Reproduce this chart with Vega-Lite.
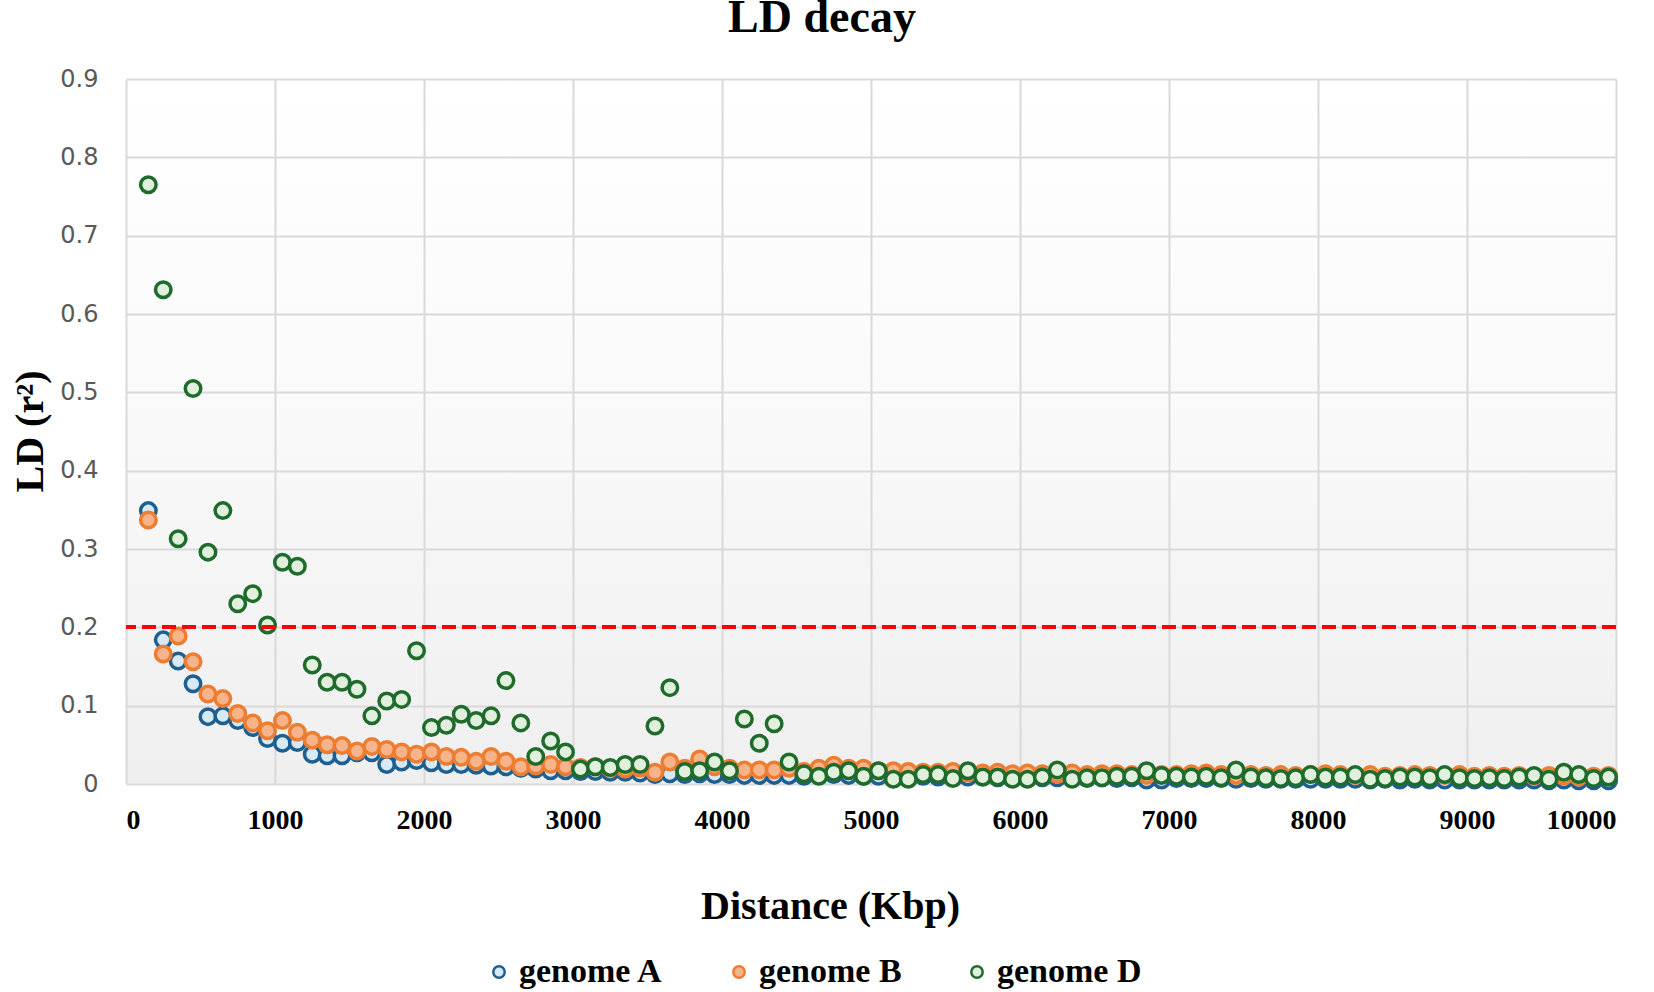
{
  "$schema": "https://vega.github.io/schema/vega-lite/v6.json",
  "width": 1490,
  "height": 705,
  "autosize": "none",
  "padding": {"left": 126, "top": 79, "right": 38, "bottom": 208},
  "background": "white",
  "title": {"text": "LD decay", "font": "Liberation Serif", "fontSize": 46, "fontWeight": "bold", "color": "#000000", "anchor": "middle", "dx": -49, "baseline": "alphabetic", "offset": -11},
  "data": {"values": [
    {"d":150,"genome A":0.349,"genome B":0.337,"genome D":0.765},
    {"d":250,"genome A":0.184,"genome B":0.166,"genome D":0.631},
    {"d":350,"genome A":0.157,"genome B":0.189,"genome D":0.313},
    {"d":450,"genome A":0.128,"genome B":0.156,"genome D":0.505},
    {"d":550,"genome A":0.086,"genome B":0.115,"genome D":0.296},
    {"d":650,"genome A":0.087,"genome B":0.109,"genome D":0.349},
    {"d":750,"genome A":0.081,"genome B":0.090,"genome D":0.230},
    {"d":850,"genome A":0.072,"genome B":0.078,"genome D":0.243},
    {"d":950,"genome A":0.058,"genome B":0.068,"genome D":0.203},
    {"d":1050,"genome A":0.052,"genome B":0.081,"genome D":0.283},
    {"d":1150,"genome A":0.053,"genome B":0.066,"genome D":0.278},
    {"d":1250,"genome A":0.038,"genome B":0.056,"genome D":0.152},
    {"d":1350,"genome A":0.036,"genome B":0.050,"genome D":0.130},
    {"d":1450,"genome A":0.036,"genome B":0.049,"genome D":0.130},
    {"d":1550,"genome A":0.040,"genome B":0.042,"genome D":0.121},
    {"d":1650,"genome A":0.040,"genome B":0.048,"genome D":0.087},
    {"d":1750,"genome A":0.025,"genome B":0.044,"genome D":0.106},
    {"d":1850,"genome A":0.028,"genome B":0.041,"genome D":0.108},
    {"d":1950,"genome A":0.030,"genome B":0.038,"genome D":0.170},
    {"d":2050,"genome A":0.027,"genome B":0.041,"genome D":0.072},
    {"d":2150,"genome A":0.025,"genome B":0.035,"genome D":0.075},
    {"d":2250,"genome A":0.025,"genome B":0.034,"genome D":0.089},
    {"d":2350,"genome A":0.024,"genome B":0.029,"genome D":0.081},
    {"d":2450,"genome A":0.023,"genome B":0.035,"genome D":0.087},
    {"d":2550,"genome A":0.022,"genome B":0.029,"genome D":0.132},
    {"d":2650,"genome A":0.020,"genome B":0.022,"genome D":0.078},
    {"d":2750,"genome A":0.019,"genome B":0.023,"genome D":0.035},
    {"d":2850,"genome A":0.017,"genome B":0.025,"genome D":0.055},
    {"d":2950,"genome A":0.017,"genome B":0.022,"genome D":0.041},
    {"d":3050,"genome A":0.016,"genome B":0.021,"genome D":0.019},
    {"d":3150,"genome A":0.016,"genome B":0.022,"genome D":0.022},
    {"d":3250,"genome A":0.015,"genome B":0.020,"genome D":0.021},
    {"d":3350,"genome A":0.015,"genome B":0.019,"genome D":0.025},
    {"d":3450,"genome A":0.014,"genome B":0.020,"genome D":0.025},
    {"d":3550,"genome A":0.012,"genome B":0.015,"genome D":0.074},
    {"d":3650,"genome A":0.013,"genome B":0.028,"genome D":0.123},
    {"d":3750,"genome A":0.012,"genome B":0.020,"genome D":0.016},
    {"d":3850,"genome A":0.013,"genome B":0.032,"genome D":0.017},
    {"d":3950,"genome A":0.012,"genome B":0.022,"genome D":0.028},
    {"d":4050,"genome A":0.012,"genome B":0.020,"genome D":0.017},
    {"d":4150,"genome A":0.011,"genome B":0.018,"genome D":0.083},
    {"d":4250,"genome A":0.011,"genome B":0.018,"genome D":0.052},
    {"d":4350,"genome A":0.011,"genome B":0.018,"genome D":0.077},
    {"d":4450,"genome A":0.011,"genome B":0.020,"genome D":0.028},
    {"d":4550,"genome A":0.010,"genome B":0.016,"genome D":0.013},
    {"d":4650,"genome A":0.011,"genome B":0.020,"genome D":0.010},
    {"d":4750,"genome A":0.012,"genome B":0.024,"genome D":0.015},
    {"d":4850,"genome A":0.011,"genome B":0.020,"genome D":0.017},
    {"d":4950,"genome A":0.010,"genome B":0.020,"genome D":0.010},
    {"d":5050,"genome A":0.010,"genome B":0.017,"genome D":0.017},
    {"d":5150,"genome A":0.010,"genome B":0.017,"genome D":0.006},
    {"d":5250,"genome A":0.009,"genome B":0.016,"genome D":0.006},
    {"d":5350,"genome A":0.010,"genome B":0.015,"genome D":0.012},
    {"d":5450,"genome A":0.009,"genome B":0.015,"genome D":0.012},
    {"d":5550,"genome A":0.009,"genome B":0.016,"genome D":0.007},
    {"d":5650,"genome A":0.009,"genome B":0.014,"genome D":0.017},
    {"d":5750,"genome A":0.009,"genome B":0.014,"genome D":0.009},
    {"d":5850,"genome A":0.008,"genome B":0.015,"genome D":0.009},
    {"d":5950,"genome A":0.008,"genome B":0.013,"genome D":0.006},
    {"d":6050,"genome A":0.009,"genome B":0.014,"genome D":0.006},
    {"d":6150,"genome A":0.008,"genome B":0.013,"genome D":0.009},
    {"d":6250,"genome A":0.008,"genome B":0.012,"genome D":0.018},
    {"d":6350,"genome A":0.008,"genome B":0.014,"genome D":0.006},
    {"d":6450,"genome A":0.007,"genome B":0.012,"genome D":0.008},
    {"d":6550,"genome A":0.008,"genome B":0.013,"genome D":0.008},
    {"d":6650,"genome A":0.007,"genome B":0.013,"genome D":0.010},
    {"d":6750,"genome A":0.008,"genome B":0.012,"genome D":0.010},
    {"d":6850,"genome A":0.005,"genome B":0.011,"genome D":0.017},
    {"d":6950,"genome A":0.005,"genome B":0.012,"genome D":0.011},
    {"d":7050,"genome A":0.007,"genome B":0.012,"genome D":0.010},
    {"d":7150,"genome A":0.007,"genome B":0.013,"genome D":0.009},
    {"d":7250,"genome A":0.007,"genome B":0.014,"genome D":0.010},
    {"d":7350,"genome A":0.007,"genome B":0.012,"genome D":0.008},
    {"d":7450,"genome A":0.006,"genome B":0.011,"genome D":0.018},
    {"d":7550,"genome A":0.007,"genome B":0.012,"genome D":0.009},
    {"d":7650,"genome A":0.006,"genome B":0.011,"genome D":0.008},
    {"d":7750,"genome A":0.006,"genome B":0.012,"genome D":0.007},
    {"d":7850,"genome A":0.006,"genome B":0.011,"genome D":0.008},
    {"d":7950,"genome A":0.006,"genome B":0.012,"genome D":0.012},
    {"d":8050,"genome A":0.006,"genome B":0.013,"genome D":0.009},
    {"d":8150,"genome A":0.006,"genome B":0.012,"genome D":0.009},
    {"d":8250,"genome A":0.006,"genome B":0.011,"genome D":0.012},
    {"d":8350,"genome A":0.005,"genome B":0.012,"genome D":0.006},
    {"d":8450,"genome A":0.006,"genome B":0.010,"genome D":0.007},
    {"d":8550,"genome A":0.005,"genome B":0.011,"genome D":0.009},
    {"d":8650,"genome A":0.006,"genome B":0.012,"genome D":0.009},
    {"d":8750,"genome A":0.005,"genome B":0.011,"genome D":0.008},
    {"d":8850,"genome A":0.005,"genome B":0.011,"genome D":0.012},
    {"d":8950,"genome A":0.005,"genome B":0.012,"genome D":0.008},
    {"d":9050,"genome A":0.005,"genome B":0.010,"genome D":0.007},
    {"d":9150,"genome A":0.005,"genome B":0.011,"genome D":0.008},
    {"d":9250,"genome A":0.005,"genome B":0.010,"genome D":0.007},
    {"d":9350,"genome A":0.005,"genome B":0.011,"genome D":0.009},
    {"d":9450,"genome A":0.005,"genome B":0.010,"genome D":0.011},
    {"d":9550,"genome A":0.004,"genome B":0.011,"genome D":0.006},
    {"d":9650,"genome A":0.005,"genome B":0.010,"genome D":0.015},
    {"d":9750,"genome A":0.004,"genome B":0.009,"genome D":0.012},
    {"d":9850,"genome A":0.004,"genome B":0.010,"genome D":0.007},
    {"d":9950,"genome A":0.004,"genome B":0.011,"genome D":0.009}
  ]},
  "transform": [{"fold": ["genome A", "genome B", "genome D"], "as": ["genome", "r2"]}],
  "layer": [
    {
      "mark": {"type": "point", "shape": "circle", "filled": true, "size": 240, "strokeWidth": 3.5, "opacity": 1},
      "encoding": {
        "x": {"field": "d", "type": "quantitative", "scale": {"domain": [0, 10000], "nice": false},
              "axis": {"values": [0,1000,2000,3000,4000,5000,6000,7000,8000,9000,10000], "title": "Distance (Kbp)", "format": "d",
                       "labelFont": "Liberation Serif", "labelFontWeight": "bold", "labelFontSize": 28, "labelColor": "#000000",
                       "labelPadding": 22, "labelBaseline": "top",
                       "titleFont": "Liberation Serif", "titleFontWeight": "bold", "titleFontSize": 40, "titleColor": "#000000",
                       "titleX": 704, "titleY": 134, "titleBaseline": "alphabetic", "titleAnchor": "middle", "titleAlign": "center"}},
        "y": {"field": "r2", "type": "quantitative", "scale": {"domain": [0, 0.9], "nice": false},
              "axis": {"values": [0,0.1,0.2,0.3,0.4,0.5,0.6,0.7,0.8,0.9], "title": "LD (r²)",
                       "labelExpr": "datum.value == 0 ? '0' : format(datum.value, '.1f')",
                       "labelFont": "DejaVu Sans", "labelFontSize": 24, "labelColor": "#595959", "labelPadding": 28,
                       "titleFont": "Liberation Serif", "titleFontWeight": "bold", "titleFontSize": 40, "titleColor": "#000000",
                       "titleX": -96, "titleY": 352, "titleAngle": 270, "titleAlign": "center", "titleBaseline": "middle"}},
        "stroke": {"field": "genome", "type": "nominal",
                   "scale": {"domain": ["genome A", "genome B", "genome D"], "range": ["#1f5f8f", "#ed7d31", "#1e6b2c"]},
                   "legend": {"title": null}},
        "fill": {"field": "genome", "type": "nominal",
                 "scale": {"domain": ["genome A", "genome B", "genome D"], "range": ["#d6e9f6", "#f7b48a", "#e0f0dc"]},
                 "legend": {"title": null}},
        "order": {"field": "genome", "type": "ordinal"}
      }
    },
    {
      "mark": {"type": "rule", "color": "#ff0000", "strokeWidth": 3.5, "strokeDash": [14, 6]},
      "encoding": {"y": {"datum": 0.2}}
    }
  ],
  "config": {
    "view": {"stroke": null, "fill": {"gradient": "linear", "x1": 0, "y1": 0, "x2": 0, "y2": 1, "stops": [{"offset": 0, "color": "#ffffff"}, {"offset": 0.45, "color": "#fafafa"}, {"offset": 1, "color": "#efefef"}]}},
    "axis": {"grid": true, "gridColor": "#d9d9d9", "gridWidth": 2, "domain": false, "ticks": false},
    "legend": {"orient": "none", "legendX": 356, "legendY": 876, "direction": "horizontal",
               "labelFont": "Liberation Serif", "labelFontWeight": "bold", "labelFontSize": 34, "labelColor": "#000000",
               "symbolType": "circle", "symbolSize": 130, "symbolStrokeWidth": 2.5, "labelOffset": 3, "columnPadding": 58}
  }
}
